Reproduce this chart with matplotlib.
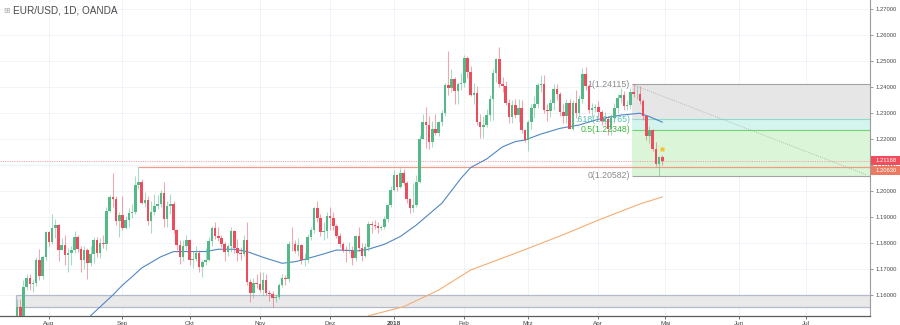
import numpy as np
import pandas as pd
import matplotlib
matplotlib.use("Agg")
import matplotlib.pyplot as plt
from matplotlib.patches import Rectangle
from matplotlib.transforms import blended_transform_factory

plt.rcParams['font.family'] = ['Liberation Sans', 'DejaVu Sans']

# ---------------- DATA ----------------
# EUR/USD daily bars, OANDA (no bars on 25 Dec / 1 Jan)
first_day = "2017-07-18"
first_open = 1.1475

closes = [
    # Jul
    1.1555, 1.1515, 1.1632, 1.1664, 1.1642, 1.1646, 1.1735, 1.1674, 1.1748, 1.1843,
    # Aug
    1.1802, 1.1856, 1.1869, 1.1774, 1.1792, 1.1755, 1.1760, 1.1775, 1.1822, 1.1777,
    1.1735, 1.1772, 1.1722, 1.1758, 1.1813, 1.1762, 1.1801, 1.1797, 1.1924, 1.1978,
    1.1970, 1.1886, 1.1908,
    # Sep
    1.1858, 1.1888, 1.1917, 1.1919, 1.2024, 1.2036, 1.1955, 1.1967, 1.1886, 1.1920,
    1.1944, 1.1951, 1.1992, 1.1893, 1.1942, 1.1950, 1.1849, 1.1792, 1.1746, 1.1787,
    1.1813,
    # Oct
    1.1733, 1.1740, 1.1760, 1.1707, 1.1728, 1.1735, 1.1808, 1.1856, 1.1827, 1.1818,
    1.1797, 1.1765, 1.1788, 1.1845, 1.1782, 1.1762, 1.1758, 1.1813, 1.1650, 1.1607,
    1.1648, 1.1643,
    # Nov
    1.1620, 1.1658, 1.1609, 1.1605, 1.1588, 1.1592, 1.1640, 1.1664, 1.1662, 1.1798,
    1.1795, 1.1771, 1.1792, 1.1733, 1.1736, 1.1822, 1.1850, 1.1933, 1.1896, 1.1842,
    1.1845, 1.1904,
    # Dec
    1.1895, 1.1865, 1.1827, 1.1796, 1.1772, 1.1768, 1.1771, 1.1742, 1.1827, 1.1780,
    1.1750, 1.1783, 1.1872, 1.1868, 1.1866, 1.1858, 1.1862, 1.1893, 1.1945, 1.2005,
    # Jan
    1.2060, 1.2014, 1.2070, 1.2032, 1.1968, 1.1936, 1.1948, 1.2036, 1.2200, 1.2264,
    1.2255, 1.2188, 1.2240, 1.2222, 1.2264, 1.2300, 1.2408, 1.2398, 1.2430, 1.2385,
    1.2410, 1.2414,
    # Feb
    1.2510, 1.2458, 1.2371, 1.2378, 1.2265, 1.2248, 1.2252, 1.2292, 1.2354, 1.2452,
    1.2508, 1.2410, 1.2405, 1.2337, 1.2285, 1.2332, 1.2294, 1.2320, 1.2233, 1.2195,
    # Mar
    1.2267, 1.2318, 1.2336, 1.2407, 1.2410, 1.2312, 1.2306, 1.2338, 1.2391, 1.2373,
    1.2302, 1.2288, 1.2338, 1.2240, 1.2340, 1.2299, 1.2353, 1.2450, 1.2403, 1.2312,
    1.2320, 1.2322,
    # Apr
    1.2302, 1.2268, 1.2278, 1.2240, 1.2282, 1.2320, 1.2358, 1.2368, 1.2328, 1.2330,
    1.2382, 1.2372, 1.2375, 1.2345, 1.2288, 1.2210, 1.2234, 1.2160, 1.2104, 1.2130,
    1.21168,
]

highs = [
    1.1583, 1.1585, 1.1658, 1.1682, 1.1679, 1.1660, 1.1745, 1.1777, 1.1752, 1.1846,
    1.1845, 1.1910, 1.1893, 1.1873, 1.1820, 1.1830, 1.1780, 1.1790, 1.1845, 1.1830,
    1.1790, 1.1790, 1.1780, 1.1790, 1.1825, 1.1825, 1.1820, 1.1830, 1.1940, 1.1983,
    1.2070, 1.1980, 1.1920,
    1.1980, 1.1905, 1.1935, 1.1950, 1.2058, 1.2092, 1.2045, 1.1995, 1.1980, 1.1960,
    1.1990, 1.1985, 1.2005, 1.2035, 1.1960, 1.1990, 1.1960, 1.1855, 1.1810, 1.1810,
    1.1830,
    1.1815, 1.1770, 1.1790, 1.1775, 1.1735, 1.1780, 1.1825, 1.1865, 1.1880, 1.1860,
    1.1830, 1.1805, 1.1795, 1.1860, 1.1850, 1.1815, 1.1785, 1.1830, 1.1880, 1.1660,
    1.1665, 1.1680,
    1.1690, 1.1688, 1.1680, 1.1620, 1.1615, 1.1605, 1.1645, 1.1680, 1.1675, 1.1808,
    1.1860, 1.1810, 1.1820, 1.1795, 1.1760, 1.1835, 1.1862, 1.1940, 1.1960, 1.1910,
    1.1880, 1.1920,
    1.1940, 1.1920, 1.1875, 1.1840, 1.1805, 1.1790, 1.1805, 1.1790, 1.1830, 1.1860,
    1.1800, 1.1800, 1.1885, 1.1885, 1.1890, 1.1880, 1.1870, 1.1905, 1.1950, 1.2020,
    1.2080, 1.2065, 1.2088, 1.2085, 1.2040, 1.1975, 1.2030, 1.2060, 1.2215, 1.2296,
    1.2323, 1.2290, 1.2270, 1.2295, 1.2270, 1.2310, 1.2415, 1.2537, 1.2470, 1.2440,
    1.2420, 1.2455,
    1.2525, 1.2520, 1.2480, 1.2415, 1.2405, 1.2295, 1.2290, 1.2315, 1.2370, 1.2470,
    1.2513, 1.2555, 1.2440, 1.2425, 1.2355, 1.2350, 1.2355, 1.2355, 1.2350, 1.2240,
    1.2275, 1.2335, 1.2365, 1.2415, 1.2445, 1.2445, 1.2335, 1.2355, 1.2410, 1.2413,
    1.2380, 1.2335, 1.2355, 1.2355, 1.2350, 1.2388, 1.2370, 1.2475, 1.2477, 1.2410,
    1.2340, 1.2335,
    1.2345, 1.2310, 1.2305, 1.2290, 1.2295, 1.2340, 1.2375, 1.2396, 1.2385, 1.2350,
    1.2395, 1.24115, 1.2405, 1.2405, 1.2355, 1.2290, 1.2250, 1.2240, 1.2190, 1.2135,
    1.2140,
]

lows = [
    1.1475, 1.1480, 1.1490, 1.1620, 1.1620, 1.1612, 1.1635, 1.1657, 1.1661, 1.1734,
    1.1790, 1.1795, 1.1820, 1.1730, 1.1774, 1.1715, 1.1688, 1.1715, 1.1760, 1.1765,
    1.1690, 1.1700, 1.1662, 1.1710, 1.1725, 1.1748, 1.1743, 1.1780, 1.1772, 1.1920,
    1.1940, 1.1869, 1.1823,
    1.1850, 1.1853, 1.1860, 1.1896, 1.1910, 1.2008, 1.1950, 1.1940, 1.1870, 1.1837,
    1.1908, 1.1930, 1.1938, 1.1860, 1.1860, 1.1912, 1.1837, 1.1775, 1.1718, 1.1730,
    1.1775,
    1.1715, 1.1705, 1.1730, 1.1690, 1.1670, 1.1715, 1.1730, 1.1790, 1.1815, 1.1808,
    1.1785, 1.1730, 1.1750, 1.1765, 1.1760, 1.1730, 1.1735, 1.1750, 1.1640, 1.1574,
    1.1590, 1.1625,
    1.1610, 1.1600, 1.1600, 1.1575, 1.1553, 1.1572, 1.1585, 1.1630, 1.1640, 1.1650,
    1.1770, 1.1760, 1.1750, 1.1720, 1.1710, 1.1725, 1.1810, 1.1840, 1.1880, 1.1828,
    1.1810, 1.1820,
    1.1850, 1.1850, 1.1820, 1.1783, 1.1765, 1.1728, 1.1760, 1.1715, 1.1730, 1.1770,
    1.1730, 1.1745, 1.1770, 1.1840, 1.1855, 1.1840, 1.1850, 1.1855, 1.1880, 1.1940,
    1.2000, 1.2000, 1.2010, 1.2025, 1.1955, 1.1915, 1.1920, 1.1940, 1.2030, 1.2200,
    1.2165, 1.2160, 1.2170, 1.2215, 1.2210, 1.2250, 1.2290, 1.2370, 1.2380, 1.2335,
    1.2335, 1.2390,
    1.2400, 1.2435, 1.2365, 1.2335, 1.2255, 1.2205, 1.2205, 1.2245, 1.2270, 1.2275,
    1.2420, 1.2400, 1.2380, 1.2330, 1.2260, 1.2260, 1.2280, 1.2265, 1.2225, 1.2190,
    1.2155, 1.2240, 1.2280, 1.2320, 1.2380, 1.2300, 1.2270, 1.2285, 1.2310, 1.2350,
    1.2290, 1.2260, 1.2260, 1.2240, 1.2235, 1.2280, 1.2285, 1.2340, 1.2390, 1.2300,
    1.2285, 1.2305,
    1.2285, 1.2255, 1.2255, 1.2215, 1.2215, 1.2260, 1.2300, 1.2340, 1.2312, 1.2310,
    1.2315, 1.2360, 1.2355, 1.2335, 1.2275, 1.2196, 1.2185, 1.2155, 1.2095, 1.20582,
    1.2100,
]

# moving averages
ma_fast_dates = ["2017-08-18", "2017-08-29", "2017-09-01", "2017-09-06", "2017-09-11",
                 "2017-09-19", "2017-09-25", "2017-10-02", "2017-10-09", "2017-10-13",
                 "2017-10-20", "2017-10-26", "2017-11-02", "2017-11-10", "2017-11-16",
                 "2017-11-21", "2017-11-29", "2017-12-05", "2017-12-14", "2017-12-19",
                 "2017-12-27", "2018-01-04", "2018-01-11", "2018-01-23", "2018-01-31",
                 "2018-02-05", "2018-02-12", "2018-02-19", "2018-02-23", "2018-02-28",
                 "2018-03-07", "2018-03-15", "2018-03-23", "2018-04-02", "2018-04-11",
                 "2018-04-19", "2018-04-24", "2018-04-30"]
ma_fast = [1.1520, 1.1600, 1.1638, 1.1670, 1.1704, 1.1747, 1.1767, 1.1767, 1.1767, 1.1776,
           1.1776, 1.1767, 1.1745, 1.1722, 1.1728, 1.1737, 1.1758, 1.1773, 1.1770, 1.1776,
           1.1795, 1.1825, 1.1869, 1.1953, 1.2049, 1.2090, 1.2123, 1.2170, 1.2190, 1.2196,
           1.2219, 1.2241, 1.2254, 1.2276, 1.2292, 1.2299, 1.2286, 1.2265]

ma_slow_dates = ["2017-12-19", "2018-01-05", "2018-01-22", "2018-02-05", "2018-02-26",
                 "2018-03-15", "2018-04-02", "2018-04-19", "2018-04-30"]
ma_slow = [1.1520, 1.1555, 1.1619, 1.1696, 1.1765, 1.1827, 1.1888, 1.1950, 1.1977]

# drawings
fib_start = "2018-04-17"
fib_ratio_txt = ["1", ".618", "0.5", "0"]
fib_levels = [1.24115, 1.22765, 1.22348, 1.20582]
sep_high_day, sep_high = "2017-09-08", 1.2092
trend_days, trend_px = ["2018-04-17", "2018-07-27"], [1.2408, 1.2062]
zone_day, zone_lo, zone_hi = "2017-07-18", 1.1553, 1.1600
alert_day, alert_px = "2018-04-30", 1.2162
second_tag = "1.20630"

month_names = ["Aug", "Sep", "Okt", "Nov", "Dez", "2018", "Feb", "Mrz", "Apr", "Mai", "Jun", "Jul"]
yticks = [1.16, 1.17, 1.18, 1.19, 1.20, 1.21, 1.22, 1.23, 1.24, 1.25, 1.26, 1.27]

# ---------------- calendar ----------------
cal = pd.bdate_range(first_day, "2018-08-31")
cal = cal[~cal.isin(pd.to_datetime(["2017-12-25", "2018-01-01"]))]
pos = {d: k for k, d in enumerate(cal)}


def px(day):
    return pos[pd.Timestamp(day)]


closes = np.array(closes)
highs = np.array(highs)
lows = np.array(lows)
opens = np.concatenate([[first_open], closes[:-1]])
x = np.arange(len(closes))

aug1 = px("2017-08-01")
x_left, x_right = aug1 - 15.34, aug1 + 257.04

UP, DOWN = "#53b987", "#eb4d5c"

fig = plt.figure(figsize=(9, 3.25), dpi=100)
ax = fig.add_axes([0, 9 / 325, 870 / 900, 316 / 325])

# grid
month_pos = []
for m in pd.date_range("2017-08-01", "2018-07-01", freq="MS"):
    month_pos.append(pos[cal[cal >= m][0]])
ax.set_xticks(month_pos)
ax.set_xticklabels(month_names)
ax.set_yticks(yticks)
ax.set_yticklabels([f"{v:.5f}" for v in yticks])
ax.grid(True, color="#eef1f6", lw=0.6, zorder=0)
ax.set_axisbelow(True)

# support zone at the bottom
ax.add_patch(Rectangle((px(zone_day) - 0.3, zone_lo), x_right + 20 - px(zone_day), zone_hi - zone_lo,
                       fc="#e9e9ea", ec="#b4b9cc", lw=0.9, zorder=1))

# fib retracement
f0 = px(fib_start) - 0.5
fib_fill = ["#e6e6e7", "#d4f4ee", "#daf5d7"]
fib_line = ["#a3a3a3", "#8fdccd", "#74d274", "#a3a3a3"]
fib_txt = ["#8a8a8a", "#56bfae", "#3cb93c", "#8a8a8a"]
for k in range(3):
    ax.add_patch(Rectangle((f0, fib_levels[k + 1]), x_right + 20 - f0, fib_levels[k] - fib_levels[k + 1],
                           fc=fib_fill[k], ec="none", zorder=1))
for k, lv in enumerate(fib_levels):
    ax.hlines(lv, f0, x_right + 20, color=fib_line[k], lw=0.8, zorder=2)
    ax.text(f0 - 0.6, lv, f"{fib_ratio_txt[k]}({lv:.5f})", ha="right", va="center",
            fontsize=6.3, color=fib_txt[k], zorder=2.5)

# horizontal level from the September high, last price line, trend line
ax.hlines(sep_high, px(sep_high_day), x_right + 20, color="#f29c88", lw=0.9, zorder=2)
ax.axhline(closes[-1], color="#f4a2aa", lw=0.7, ls=(0, (1.2, 1.2)), zorder=2)
ax.plot([px(d) for d in trend_days], trend_px, color="#ababab", lw=0.6, ls=(0, (1, 1.5)), zorder=2)

# moving averages
ax.plot([px(d) for d in ma_slow_dates], ma_slow, color="#f6ad72", lw=0.8, zorder=3)
ax.plot([px(d) for d in ma_fast_dates], ma_fast, color="#4f87c4", lw=0.8, zorder=3)

# candles
col = np.where(closes >= opens, UP, DOWN)
ax.vlines(x, lows, highs, colors=col, lw=0.75, alpha=0.5, zorder=4)
body_lo = np.minimum(opens, closes)
body_h = np.maximum(np.abs(closes - opens), 0.0002)
ax.bar(x, body_h, bottom=body_lo, width=0.8, color=col, linewidth=0, zorder=5)

ax.plot(px(alert_day), alert_px, "s", ms=2.2, color="#f2c42a", mec="none", zorder=6)

ax.set_xlim(x_left, x_right)
ax.set_ylim(1.151923, 1.273462)

# axes styling
for s in ["top", "left"]:
    ax.spines[s].set_visible(False)
ax.spines["bottom"].set_color("#5c5c5c")
ax.spines["bottom"].set_linewidth(0.9)
ax.spines["right"].set_color("#9c9c9c")
ax.spines["right"].set_linewidth(0.8)
ax.yaxis.tick_right()
ax.tick_params(axis="y", length=2.5, width=0.6, color="#8c8c8c", labelsize=4.2,
               labelcolor="#4a4a4a", pad=1.5)
ax.tick_params(axis="x", length=2, width=0.6, color="#5c5c5c", labelsize=4.6,
               labelcolor="#4a4a4a", pad=1.5)
for lab in ax.get_xticklabels():
    if lab.get_text() == "2018":
        lab.set_fontweight("bold")

# price tags on the scale
bt = blended_transform_factory(ax.transAxes, ax.transData)
tag_h = 0.0032
ax.add_patch(Rectangle((1.0012, closes[-1] - tag_h / 2), 0.0333, tag_h, transform=bt,
                       fc="#ef4d5b", ec="none", clip_on=False, zorder=7))
ax.text(1.0185, closes[-1], f"{closes[-1]:.5f}", transform=bt, ha="center", va="center",
        fontsize=4.2, color="white", clip_on=False, zorder=8)
y2 = closes[-1] - 1.2 * tag_h
ax.add_patch(Rectangle((1.0012, y2 - tag_h / 2), 0.0333, tag_h, transform=bt,
                       fc="#ec7a63", ec="none", clip_on=False, zorder=7))
ax.text(1.0185, y2, second_tag, transform=bt, ha="center", va="center",
        fontsize=4.2, color="white", clip_on=False, zorder=8)

# header
fig.text(3 / 900, 1 - 10.7 / 325, "\u229e", family="DejaVu Sans", fontsize=5.8,
         color="#b0b0b0", va="center", ha="left")
fig.text(13 / 900, 1 - 10.7 / 325, "EUR/USD, 1D, OANDA", fontsize=7.2, color="#4a4a4a",
         va="center", ha="left")

fig.savefig("out.png", dpi=100)
